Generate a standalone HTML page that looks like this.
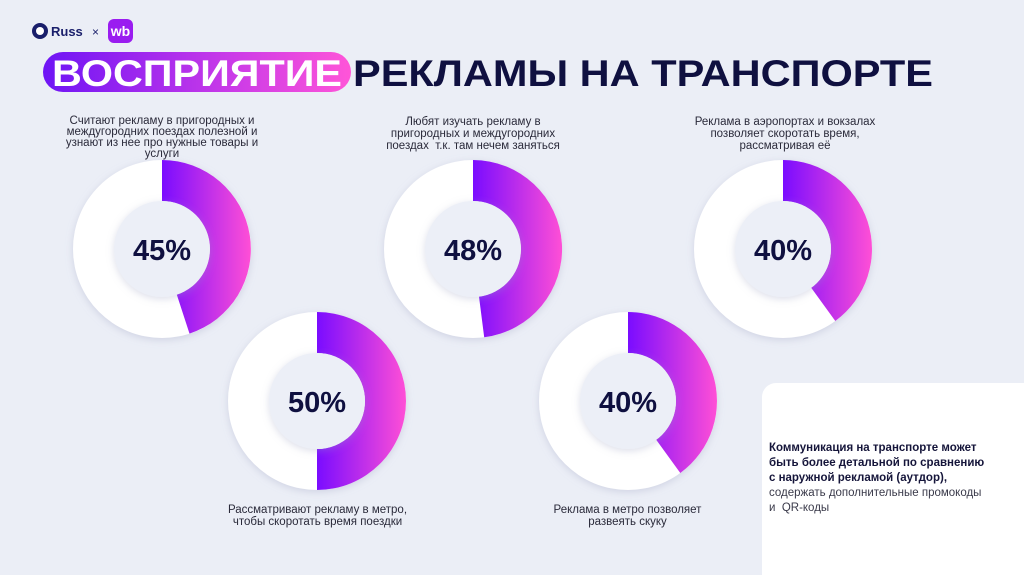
<!DOCTYPE html>
<html><head><meta charset="utf-8"><style>
body{margin:0;width:1024px;height:575px;overflow:hidden;background:#ebeef6;font-family:"Liberation Sans",sans-serif;position:relative}
.t{position:absolute;font-size:11.5px;color:#2a2a3a;text-align:center;line-height:12px;white-space:nowrap}
</style></head><body>
<svg width="1024" height="575" style="position:absolute;left:0;top:0">
<defs>
<linearGradient id="g" x1="0" y1="0" x2="1" y2="0"><stop offset="0" stop-color="#7a0cff"/><stop offset="1" stop-color="#ff4fd6"/></linearGradient>
<linearGradient id="gp" x1="0" y1="0" x2="1" y2="0"><stop offset="0" stop-color="#6e14f5"/><stop offset="0.6" stop-color="#c93ae8"/><stop offset="1" stop-color="#ff55d8"/></linearGradient>
<filter id="s" x="-30%" y="-30%" width="160%" height="160%"><feDropShadow dx="0" dy="2" stdDeviation="4" flood-color="#9aa0c0" flood-opacity="0.35"/></filter>
</defs>
<rect x="762" y="383" width="280" height="210" rx="14" fill="#fff"/>
<circle cx="40" cy="31" r="8" fill="#1a1f6b"/><circle cx="40" cy="31" r="4" fill="#fff"/>
<text x="51" y="36" font-family="Liberation Sans" font-weight="bold" font-size="13" fill="#1a1f6b">Russ</text>
<text x="92" y="36" font-family="Liberation Sans" font-size="12" fill="#1a1f6b">×</text>
<rect x="108" y="19" width="25" height="24" rx="6" fill="#9a1cf0"/>
<text x="120.5" y="36" text-anchor="middle" font-family="Liberation Sans" font-weight="bold" font-size="14" fill="#fff">wb</text>
<rect x="43" y="52" width="308" height="40" rx="20" fill="url(#gp)"/>
<text x="197" y="86" text-anchor="middle" font-family="Liberation Sans" font-weight="bold" font-size="37" fill="#fff" textLength="290" lengthAdjust="spacingAndGlyphs">ВОСПРИЯТИЕ</text>
<text x="353" y="86" font-family="Liberation Sans" font-weight="bold" font-size="37" fill="#0f1040" textLength="580" lengthAdjust="spacingAndGlyphs">РЕКЛАМЫ НА ТРАНСПОРТЕ</text>

<g transform="translate(162,249)"><circle r="89" fill="#fff" filter="url(#s)"/><path d="M0,-89 A89,89 0 0 1 27.5,84.6 L14.8,45.6 A48,48 0 0 0 0,-48Z" fill="url(#g)"/><circle r="48" fill="#eceff7" filter="url(#s)"/><text y="11" text-anchor="middle" font-weight="bold" font-size="29" fill="#0f1040">45%</text></g>
<g transform="translate(473,249)"><circle r="89" fill="#fff" filter="url(#s)"/><path d="M0,-89 A89,89 0 0 1 11.2,88.3 L6,47.6 A48,48 0 0 0 0,-48Z" fill="url(#g)"/><circle r="48" fill="#eceff7" filter="url(#s)"/><text y="11" text-anchor="middle" font-weight="bold" font-size="29" fill="#0f1040">48%</text></g>
<g transform="translate(783,249)"><circle r="89" fill="#fff" filter="url(#s)"/><path d="M0,-89 A89,89 0 0 1 52.3,72 L28.2,38.8 A48,48 0 0 0 0,-48Z" fill="url(#g)"/><circle r="48" fill="#eceff7" filter="url(#s)"/><text y="11" text-anchor="middle" font-weight="bold" font-size="29" fill="#0f1040">40%</text></g>
<g transform="translate(317,401)"><circle r="89" fill="#fff" filter="url(#s)"/><path d="M0,-89 A89,89 0 0 1 0,89 L0,48 A48,48 0 0 0 0,-48Z" fill="url(#g)"/><circle r="48" fill="#eceff7" filter="url(#s)"/><text y="11" text-anchor="middle" font-weight="bold" font-size="29" fill="#0f1040">50%</text></g>
<g transform="translate(628,401)"><circle r="89" fill="#fff" filter="url(#s)"/><path d="M0,-89 A89,89 0 0 1 52.3,72 L28.2,38.8 A48,48 0 0 0 0,-48Z" fill="url(#g)"/><circle r="48" fill="#eceff7" filter="url(#s)"/><text y="11" text-anchor="middle" font-weight="bold" font-size="29" fill="#0f1040">40%</text></g>
</svg>
<div class="t" style="left:52px;top:116px;width:220px;line-height:11px">Считают рекламу в пригородных и<br>междугородних поездах полезной и<br>узнают из нее про нужные товары и<br>услуги</div>
<div class="t" style="left:373px;top:116px;width:200px">Любят изучать рекламу в<br>пригородных и междугородних<br>поездах&nbsp; т.к. там нечем заняться</div>
<div class="t" style="left:680px;top:116px;width:210px">Реклама в аэропортах и вокзалах<br>позволяет скоротать время,<br>рассматривая её</div>
<div class="t" style="left:215px;top:504px;width:205px">Рассматривают рекламу в метро,<br>чтобы скоротать время поездки</div>
<div class="t" style="left:535px;top:504px;width:185px">Реклама в метро позволяет<br>развеять скуку</div>
<div style="position:absolute;left:769px;top:441px;width:255px;font-size:11.5px;line-height:15px;color:#3a3a4a;white-space:nowrap"><b style="color:#15153a">Коммуникация на транспорте может<br>быть более детальной по сравнению<br>с наружной рекламой (аутдор),</b><br>содержать дополнительные промокоды<br>и&nbsp; QR-коды</div>
</body></html>
